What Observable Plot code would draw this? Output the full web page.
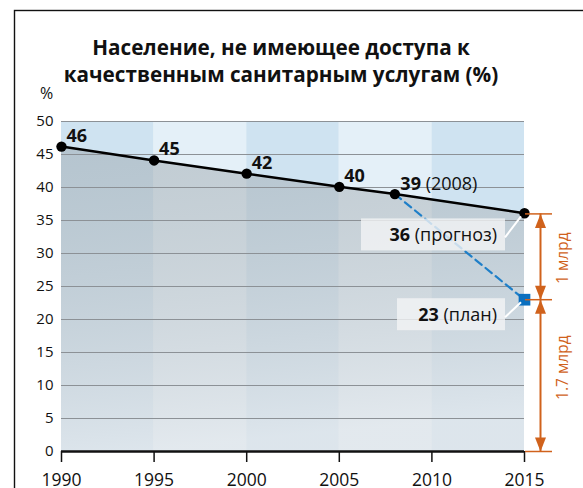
<!DOCTYPE html>
<html><head><meta charset="utf-8">
<script src="https://cdn.jsdelivr.net/npm/d3@7"></script>
<script src="https://cdn.jsdelivr.net/npm/@observablehq/plot@0.6"></script>
<style>body{margin:0;background:#fff}</style>
</head><body><div id="chart"></div>
<script>
// ---- data ----
const years = [1990, 1995, 2000, 2005, 2008, 2015];
const values = [46.2, 44.1, 42.1, 40.1, 39.0, 36.1];
const valueLabels = ["46", "45", "42", "40", "39", ""];
const planYears = [2008, 2015];
const planValues = [39, 23];
const xTicks = [1990, 1995, 2000, 2005, 2010, 2015];
const yTicks = [0, 5, 10, 15, 20, 25, 30, 35, 40, 45, 50];
const gridValues = [5, 10, 15, 20, 25, 30, 35, 40, 45, 50];
const bandStarts = [1990, 1995, 2000, 2005, 2010];
const bandEnds = [1995, 2000, 2005, 2010, 2015];
const bandShade = ["dark", "light", "dark", "light", "dark"];
const titleText = "Население, не имеющее доступа к\nкачественным санитарным услугам (%)";
const unitLabel = "%";
const note2008 = {year: 2008, value: 39, bold: "39", rest: " (2008)"};
const noteForecast = {year: 2015, value: 36, bold: "36", rest: " (прогноз)"};
const notePlan = {year: 2015, value: 23, bold: "23", rest: " (план)"};
const bracketValues = [36, 23, 0];
const arrowUpValues = [36, 23];
const arrowDownValues = [23, 0];
const bracketTexts = ["1 млрд", "1.7 млрд"];
const bracketTextValues = [29.3, 12.7];

const points = years.map((d, i) => ({year: d, value: values[i], label: valueLabels[i]}));
const plan = planYears.map((d, i) => ({year: d, value: planValues[i]}));
const bands = bandStarts.map((d, i) => ({x1: d, x2: bandEnds[i], shade: bandShade[i]}));

const orange = "#d0621c";
const font = "Open Sans, sans-serif";

const upSym = {draw(ctx) { ctx.moveTo(0, 0); ctx.lineTo(-5.5, 14); ctx.lineTo(5.5, 14); ctx.closePath(); }};
const downSym = {draw(ctx) { ctx.moveTo(0, 0); ctx.lineTo(-5.5, -14); ctx.lineTo(5.5, -14); ctx.closePath(); }};

function defsMark() {
  const g = d3.create("svg:g");
  const defs = g.append("defs");
  const lg = defs.append("linearGradient").attr("id", "shade").attr("x1", 0).attr("y1", 0).attr("x2", 0.15).attr("y2", 1);
  lg.append("stop").attr("offset", 0).attr("stop-color", "rgb(150,160,166)").attr("stop-opacity", 0.45);
  lg.append("stop").attr("offset", 1).attr("stop-color", "rgb(226,230,234)").attr("stop-opacity", 0.72);
  g.append("rect").attr("x", 14.5).attr("y", 10.5).attr("width", 620).attr("height", 520)
    .attr("fill", "none").attr("stroke", "#111").attr("stroke-width", 1.4);
  return g.node();
}

function mixedText(g, x, y, n, anchor, size) {
  const t = g.append("text").attr("x", x).attr("y", y).attr("text-anchor", anchor)
    .attr("font-size", size).attr("font-family", font).attr("fill", "#111");
  t.append("tspan").attr("font-weight", "bold").text(n.bold);
  t.append("tspan").text(n.rest);
}

function notesMark(index, scales) {
  const {x, y} = scales;
  const g = d3.create("svg:g");
  mixedText(g, x(note2008.year) + 6, y(note2008.value) - 3.5, note2008, "start", 18);
  const x0 = x(2015);
  [[noteForecast, 144, 21], [notePlan, 108, 15]].forEach(([n, w, off]) => {
    const py = y(n.value);
    const cy = py + off;
    g.append("rect").attr("x", x0 - 19 - w).attr("y", cy - 16).attr("width", w).attr("height", 32)
      .attr("fill", "#f2f4f5").attr("fill-opacity", 0.8);
    g.append("line").attr("x1", x0 - 19).attr("y1", cy + 3).attr("x2", x0 - 3).attr("y2", py + 3)
      .attr("stroke", "#fff").attr("stroke-width", 2);
    mixedText(g, x0 - 27, cy + 7, n, "end", 18);
  });
  return g.node();
}

const chart = Plot.plot({
  width: 583,
  height: 488,
  marginLeft: 61,
  marginRight: 59,
  marginTop: 121,
  marginBottom: 37,
  style: {fontFamily: font, fontSize: "15px", color: "#111", background: "transparent"},
  x: {domain: [1990, 2015], ticks: xTicks, tickFormat: d => String(d), tickSize: 11, tickPadding: 11, label: null},
  y: {domain: [0, 50], ticks: yTicks, tickSize: 0, tickPadding: 8, label: null},
  marks: [
    defsMark,
    Plot.rectY(bands, {x1: "x1", x2: "x2", y1: 0, y2: 50, fill: d => d.shade === "dark" ? "#cfe3f1" : "#e4f0f8"}),
    Plot.areaY(points, {x: "year", y: "value", fill: "url(#shade)"}),
    Plot.ruleY(gridValues, {x1: 1990, x2: 2015, stroke: "#8c9196", strokeWidth: 1}),
    Plot.ruleY([0], {x1: 1990, x2: 2015, stroke: "#111", strokeWidth: 2.5}),
    Plot.line(plan, {x: "year", y: "value", stroke: "#1f7fc8", strokeWidth: 2.2, strokeDasharray: "8,5"}),
    Plot.line(points, {x: "year", y: "value", stroke: "#000", strokeWidth: 2.5}),
    Plot.dot(points, {x: "year", y: "value", r: 5.2, fill: "#000"}),
    Plot.dot([plan[1]], {x: "year", y: "value", symbol: "square", r: 6.6, fill: "#0a6fbf"}),
    Plot.text(points.slice(0, 4), {x: "year", y: "value", text: "label", dx: 5, dy: -5, lineAnchor: "bottom", textAnchor: "start", fontWeight: "bold", fontSize: 18, fill: "#111"}),
    notesMark,
    Plot.ruleY(bracketValues, {y: d => d, x1: 2015, x2: 2015, insetLeft: 1, insetRight: -28, stroke: orange, strokeWidth: 1.5}),
    Plot.ruleX([0], {x: 2015, y1: 0, y2: 36, dx: 16, stroke: orange, strokeWidth: 2}),
    Plot.dot(arrowUpValues, {x: 2015, y: d => d, dx: 16, symbol: upSym, r: 3, fill: orange, stroke: "none"}),
    Plot.dot(arrowDownValues, {x: 2015, y: d => d, dx: 16, symbol: downSym, r: 3, fill: orange, stroke: "none"}),
    Plot.text(bracketTexts, {x: 2015, y: (d, i) => bracketTextValues[i], text: d => d, dx: 39, rotate: -90, fill: orange, fontSize: 15.5}),
    Plot.text([titleText], {frameAnchor: "top", text: d => d, dx: -12, dy: -40, lineAnchor: "bottom", lineHeight: 1.26, fontWeight: "bold", fontSize: 20.7, fill: "#111"}),
    Plot.text([unitLabel], {frameAnchor: "top-left", text: d => d, dx: -15, dy: -23, lineAnchor: "bottom", textAnchor: "middle", fontSize: 16, fill: "#111"})
  ]
});
const sel = d3.select(chart);
sel.selectAll('g[aria-label="x-axis"] text, g[aria-label="x-axis tick label"] text, g[aria-label="x-axis tick label"]').attr("font-size", 17.5).style("font-size", "17.5px");
sel.selectAll('g[aria-label="y-axis"] text, g[aria-label="y-axis tick label"] text, g[aria-label="y-axis tick label"]').attr("font-size", 15).style("font-size", "15px");
sel.selectAll('g[aria-label="x-axis tick"], g[aria-label="x-axis"] line').attr("stroke-width", 1.5);
document.getElementById("chart").appendChild(chart);
</script>
</body></html>
